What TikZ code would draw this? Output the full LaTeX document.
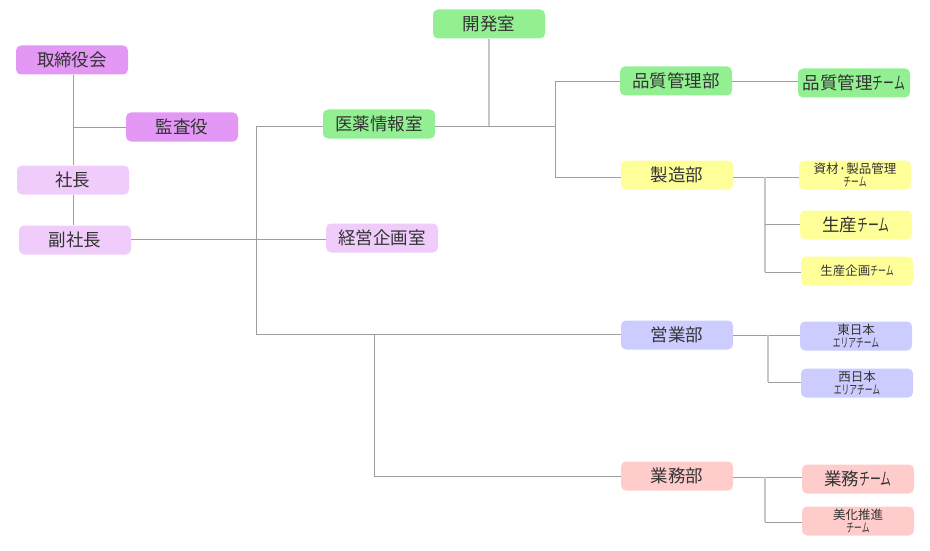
\documentclass[tikz,border=0pt]{standalone}
\usepackage{fontspec}
\setmainfont{Noto Sans CJK JP}
\newfontfamily\cn[FakeStretch=0.62]{Noto Sans CJK JP}
\begin{document}
\begin{tikzpicture}[x=1pt,y=-1pt,
  box/.style={rounded corners=5pt,minimum width=112pt,minimum height=29pt,inner sep=0pt,
    text=black!80,font=\fontsize{17.5}{19}\selectfont,align=center},
  smallbox/.style={box,font=\fontsize{12.5}{13}\selectfont},
  tinybox/.style={box,font=\fontsize{12.5}{12.5}\selectfont},
  line/.style={draw=black!38,line width=0.9pt},
  lightline/.style={draw=black!22,line width=1.3pt}]
\definecolor{cMag}{RGB}{228,152,246}
\definecolor{cLil}{RGB}{240,204,250}
\definecolor{cGrn}{RGB}{146,240,146}
\definecolor{cYel}{RGB}{255,255,153}
\definecolor{cBlu}{RGB}{204,204,255}
\definecolor{cPnk}{RGB}{255,204,204}
\useasboundingbox (0,0) rectangle (930,551);
% nodes
\node[box,fill=cMag] (tori) at (72,60) {取締役会};
\node[box,fill=cMag] (kansa) at (182,127) {監査役};
\node[box,fill=cLil] (shacho) at (73,180) {社長};
\node[box,fill=cLil] (fuku) at (75,240) {副社長};
\node[box,fill=cGrn] (kaihatsu) at (489,24) {開発室};
\node[box,fill=cGrn] (iyaku) at (379,124) {医薬情報室};
\node[box,fill=cLil] (keiei) at (382,238) {経営企画室};
\node[box,fill=cGrn] (hinshitsu) at (676,81) {品質管理部};
\node[box,fill=cGrn] (hinteam) at (854,83) {品質管理{\cn チーム}};
\node[box,fill=cYel] (seizo) at (677,175) {製造部};
\node[smallbox,fill=cYel] (shizai) at (855,175) {資材{\cn ・}製品管理\\{\cn チーム}};
\node[box,fill=cYel] (seisan) at (856,225) {生産{\cn チーム}};
\node[smallbox,fill=cYel] (seikaku) at (857,271) {生産企画{\cn チーム}};
\node[box,fill=cBlu] (eigyo) at (677,335) {営業部};
\node[tinybox,fill=cBlu] (higashi) at (856,336) {東日本\\{\cn エリアチーム}};
\node[tinybox,fill=cBlu] (nishi) at (857,383) {西日本\\{\cn エリアチーム}};
\node[box,fill=cPnk] (gyomu) at (677,476) {業務部};
\node[box,fill=cPnk] (gyoteam) at (858,479) {業務{\cn チーム}};
\node[tinybox,fill=cPnk] (bika) at (858,521) {美化推進\\{\cn チーム}};
% junction coordinates
\coordinate (k1) at (73,127);
\coordinate (a1) at (256,126);
\coordinate (a2) at (256,239);
\coordinate (a3) at (256,334);
\coordinate (b1) at (489,126);
\coordinate (b2) at (555,126);
\coordinate (b3) at (555,81);
\coordinate (b4) at (555,177);
\coordinate (c1) at (765,177);
\coordinate (c2) at (765,224);
\coordinate (c3) at (765,272);
\coordinate (d0) at (374,334);
\coordinate (d1) at (374,476);
\coordinate (e1) at (768,335);
\coordinate (e2) at (768,382);
\coordinate (f1) at (765,477);
\coordinate (f2) at (765,522);
% connectors
\draw[line] (k1 |- tori.south) -- (k1 |- shacho.north);
\draw[line] (k1 |- shacho.south) -- (k1 |- fuku.north);
\draw[line] (k1) -- (kansa.west |- k1);
\draw[line] (fuku.east |- a2) -- (keiei.west |- a2);
\draw[line] (a1) -- (a3);
\draw[line] (a1) -- (iyaku.west |- a1);
\draw[line] (a3) -- (eigyo.west |- a3);
\draw[line] (iyaku.east |- b2) -- (b2);
\draw[lightline] (kaihatsu) -- (b1);
\draw[line] (b3) -- (b4);
\draw[line] (b3) -- (hinshitsu.west |- b3);
\draw[line] (b4) -- (seizo.west |- b4);
\draw[line] (hinshitsu.east |- b3) -- (hinteam.west |- b3);
\draw[line] (seizo.east |- c1) -- (shizai.west |- c1);
\draw[lightline] (c1) -- (c3);
\draw[line] (c2) -- (seisan.west |- c2);
\draw[line] (c3) -- (seikaku.west |- c3);
\draw[line] (eigyo.east |- e1) -- (higashi.west |- e1);
\draw[lightline] (e1) -- (e2);
\draw[line] (e2) -- (nishi.west |- e2);
\draw[line] (d0) -- (d1);
\draw[line] (d1) -- (gyomu.west |- d1);
\draw[line] (gyomu.east |- f1) -- (gyoteam.west |- f1);
\draw[lightline] (f1) -- (f2);
\draw[line] (f2) -- (bika.west |- f2);
\end{tikzpicture}
\end{document}
